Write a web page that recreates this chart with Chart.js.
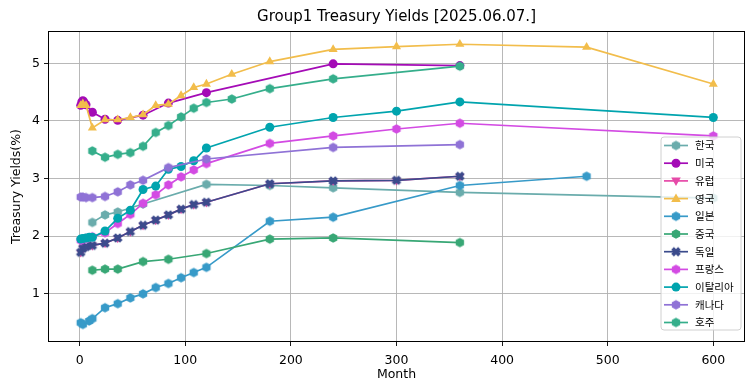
<!DOCTYPE html>
<html>
<head>
<meta charset="utf-8">
<script src="https://cdn.jsdelivr.net/npm/chart.js@4.4.0/dist/chart.umd.min.js"></script>
<style>
  html, body { margin: 0; padding: 0; background: #fff; }
</style>
</head>
<body>
<canvas id="yieldChart" width="755" height="391"></canvas>
<script>
// 만기(개월) / 금리(%)
const krMonths = [12, 24, 36, 60, 120, 180, 240, 360, 600];
const krYields = [2.24, 2.37, 2.42, 2.56, 2.90, 2.88, 2.84, 2.76, 2.66];

const usMonths = [1, 2, 3, 4, 6, 12, 24, 36, 60, 84, 120, 240, 360];
const usYields = [4.27, 4.33, 4.35, 4.33, 4.28, 4.15, 4.03, 4.01, 4.10, 4.31, 4.49, 4.99, 4.96];

const euMonths = [1, 3, 6, 12, 24, 36, 48, 60, 72, 84, 96, 108, 120, 180, 240, 300, 360];
const euYields = [1.72, 1.79, 1.82, 1.84, 1.88, 1.97, 2.08, 2.19, 2.28, 2.37, 2.47, 2.55, 2.59, 2.91, 2.96, 2.97, 3.04];

const ukMonths = [1, 3, 6, 12, 24, 36, 48, 60, 72, 84, 96, 108, 120, 144, 180, 240, 300, 360, 480, 600];
const ukYields = [4.27, 4.30, 4.27, 3.88, 4.02, 4.02, 4.06, 4.11, 4.27, 4.29, 4.44, 4.58, 4.64, 4.81, 5.03, 5.24, 5.29, 5.33, 5.28, 4.64];

const jpMonths = [1, 3, 9, 12, 24, 36, 48, 60, 72, 84, 96, 108, 120, 180, 240, 360, 480];
const jpYields = [0.50, 0.47, 0.53, 0.57, 0.76, 0.83, 0.93, 1.00, 1.11, 1.18, 1.28, 1.37, 1.46, 2.26, 2.33, 2.88, 3.04];

const cnMonths = [12, 24, 36, 60, 84, 120, 180, 240, 360];
const cnYields = [1.41, 1.43, 1.43, 1.56, 1.60, 1.70, 1.95, 1.97, 1.89];

const deMonths = [1, 3, 6, 12, 24, 36, 48, 60, 72, 84, 96, 108, 120, 180, 240, 300, 360];
const deYields = [1.72, 1.79, 1.82, 1.84, 1.88, 1.97, 2.08, 2.19, 2.28, 2.37, 2.47, 2.55, 2.59, 2.91, 2.96, 2.97, 3.04];

const frMonths = [1, 3, 6, 12, 24, 36, 48, 60, 72, 84, 96, 108, 120, 180, 240, 300, 360, 600];
const frYields = [1.93, 1.95, 1.96, 1.99, 2.06, 2.22, 2.38, 2.57, 2.72, 2.89, 3.03, 3.15, 3.26, 3.61, 3.74, 3.86, 3.96, 3.74];

const itMonths = [1, 3, 6, 9, 12, 24, 36, 48, 60, 72, 84, 96, 108, 120, 180, 240, 300, 360, 600];
const itYields = [1.95, 1.96, 1.97, 1.98, 1.98, 2.09, 2.31, 2.45, 2.81, 2.87, 3.16, 3.21, 3.31, 3.53, 3.89, 4.06, 4.17, 4.33, 4.06];

const caMonths = [1, 3, 6, 12, 24, 36, 48, 60, 84, 120, 240, 360];
const caYields = [2.68, 2.68, 2.67, 2.67, 2.69, 2.77, 2.89, 2.97, 3.19, 3.34, 3.54, 3.59];

const auMonths = [12, 24, 36, 48, 60, 72, 84, 96, 108, 120, 144, 180, 240, 360];
const auYields = [3.48, 3.37, 3.42, 3.45, 3.56, 3.80, 3.92, 4.07, 4.22, 4.32, 4.38, 4.56, 4.73, 4.95];

const xTicks = [0, 100, 200, 300, 400, 500, 600];
const yTicks = [1, 2, 3, 4, 5];

const chartTitle = 'Group1 Treasury Yields [2025.06.07.]';
const seriesNames = ['한국', '미국', '유럽', '영국', '일본', '중국', '독일', '프랑스', '이탈리아', '캐나다', '호주'];
const seriesColors = ['#6aacac', '#a40bb6', '#e64aa8', '#f2bd4b', '#379ac8', '#38a775', '#3b4b8c', '#d34be3', '#00a4ae', '#8f72d6', '#35ae8b'];
const seriesMarkers = ['hex', 'circle', 'tridown', 'triangle', 'hex', 'hex', 'x', 'hex', 'circle', 'hex', 'hex'];
const seriesMonths = [krMonths, usMonths, euMonths, ukMonths, jpMonths, cnMonths, deMonths, frMonths, itMonths, caMonths, auMonths];
const seriesYields = [krYields, usYields, euYields, ukYields, jpYields, cnYields, deYields, frYields, itYields, caYields, auYields];

// 마커 모양 (육각형, 채워진 X)
function makeMarker(shape, color, r) {
    const c = document.createElement('canvas');
    const s = Math.ceil(r * 2 + 2);
    c.width = s;
    c.height = s;
    const g = c.getContext('2d');
    const cx = s / 2, cy = s / 2;
    g.fillStyle = color;
    g.strokeStyle = color;
    if (shape === 'hex') {
        g.beginPath();
        for (let k = 0; k < 6; k++) {
            const a = Math.PI / 2 + k * Math.PI / 3;
            g.lineTo(cx + r * Math.cos(a), cy - r * Math.sin(a));
        }
        g.closePath();
        g.fill();
    } else if (shape === 'x') {
        g.lineWidth = r * 0.8;
        g.beginPath();
        g.moveTo(cx - r * 0.72, cy - r * 0.72);
        g.lineTo(cx + r * 0.72, cy + r * 0.72);
        g.moveTo(cx + r * 0.72, cy - r * 0.72);
        g.lineTo(cx - r * 0.72, cy + r * 0.72);
        g.stroke();
    }
    return c;
}

function pointStyleFor(i) {
    const m = seriesMarkers[i];
    if (m === 'hex' || m === 'x') return makeMarker(m, seriesColors[i], 4.8);
    if (m === 'tridown') return 'triangle';
    return m;
}

const datasets = seriesNames.map((name, i) => ({
    label: name,
    data: seriesMonths[i].map((m, j) => ({ x: m, y: seriesYields[i][j] })),
    borderColor: seriesColors[i],
    backgroundColor: seriesColors[i],
    borderWidth: 1.7,
    pointStyle: pointStyleFor(i),
    pointRotation: seriesMarkers[i] === 'tridown' ? 180 : 0,
    pointRadius: seriesMarkers[i] === 'circle' ? 4.5 : 5.2,
    pointBorderWidth: 0,
    order: seriesNames.length - 1 - i,
    tension: 0
}));

// 제목, 축 테두리, 범례
const framePlugin = {
    id: 'frame',
    afterDraw(chart) {
        const ctx = chart.ctx;
        const a = chart.chartArea;
        ctx.save();
        ctx.strokeStyle = '#000';
        ctx.lineWidth = 1;
        ctx.strokeRect(Math.round(a.left) + 0.5, Math.round(a.top) + 0.5,
            Math.round(a.right - a.left) - 1, Math.round(a.bottom - a.top) - 1);

        ctx.fillStyle = '#000';
        ctx.font = '15px "DejaVu Sans", sans-serif';
        ctx.textAlign = 'center';
        ctx.textBaseline = 'middle';
        ctx.fillText(chartTitle, (a.left + a.right) / 2, 17);

        // legend box
        const bx = 661, by = 137, bw = 80, bh = 193, rad = 3;
        ctx.beginPath();
        ctx.moveTo(bx + rad, by);
        ctx.arcTo(bx + bw, by, bx + bw, by + bh, rad);
        ctx.arcTo(bx + bw, by + bh, bx, by + bh, rad);
        ctx.arcTo(bx, by + bh, bx, by, rad);
        ctx.arcTo(bx, by, bx + bw, by, rad);
        ctx.closePath();
        ctx.fillStyle = 'rgba(255,255,255,0.8)';
        ctx.fill();
        ctx.strokeStyle = '#d0d0d0';
        ctx.lineWidth = 1;
        ctx.stroke();

        ctx.font = '10.5px "Noto Sans CJK KR", "DejaVu Sans", sans-serif';
        ctx.textAlign = 'left';
        ctx.textBaseline = 'middle';
        seriesNames.forEach((name, i) => {
            const y = 145.5 + i * 17.7;
            const col = seriesColors[i];
            ctx.strokeStyle = col;
            ctx.lineWidth = 1.7;
            ctx.beginPath();
            ctx.moveTo(664, y);
            ctx.lineTo(688, y);
            ctx.stroke();
            const mk = seriesMarkers[i];
            ctx.fillStyle = col;
            if (mk === 'hex' || mk === 'x') {
                const img = makeMarker(mk, col, 4.8);
                ctx.drawImage(img, 676 - img.width / 2, y - img.height / 2);
            } else if (mk === 'circle') {
                ctx.beginPath();
                ctx.arc(676, y, 4.5, 0, Math.PI * 2);
                ctx.fill();
            } else {
                const d = mk === 'tridown' ? -1 : 1;
                ctx.beginPath();
                ctx.moveTo(676, y - 5 * d);
                ctx.lineTo(676 + 4.8, y + 3.5 * d);
                ctx.lineTo(676 - 4.8, y + 3.5 * d);
                ctx.closePath();
                ctx.fill();
            }
            ctx.fillStyle = '#000';
            ctx.fillText(name, 695, y);
        });
        ctx.restore();
    }
};

const tickFont = { family: '"DejaVu Sans", sans-serif', size: 12.5 };

new Chart(document.getElementById('yieldChart').getContext('2d'), {
    type: 'line',
    data: { datasets },
    options: {
        responsive: false,
        animation: false,
        layout: { padding: { left: 0, right: 10, top: 31, bottom: 0 } },
        plugins: {
            legend: { display: false },
            tooltip: { enabled: false },
            title: { display: false }
        },
        scales: {
            x: {
                type: 'linear',
                min: -30,
                max: 630,
                afterFit: (s) => { s.height = 49; },
                afterBuildTicks: (s) => { s.ticks = xTicks.map(v => ({ value: v })); },
                ticks: { color: '#000', font: tickFont, padding: 7, includeBounds: false },
                grid: { color: '#b0b0b0', lineWidth: 0.9, tickColor: '#000', tickLength: 4 },
                border: { display: false },
                title: { display: true, text: 'Month', color: '#000', font: tickFont, padding: { top: 0, bottom: 8.5 } }
            },
            y: {
                type: 'linear',
                min: 0.165,
                max: 5.56,
                afterFit: (s) => { s.width = 48; },
                afterBuildTicks: (s) => { s.ticks = yTicks.map(v => ({ value: v })); },
                ticks: { color: '#000', font: tickFont, padding: 4, includeBounds: false },
                grid: { color: '#b0b0b0', lineWidth: 0.9, tickColor: '#000', tickLength: 4 },
                border: { display: false },
                title: { display: true, text: 'Treasury Yields(%)', color: '#000', font: tickFont, padding: { top: 9.5, bottom: 0 } }
            }
        }
    },
    plugins: [framePlugin]
});
</script>
</body>
</html>
